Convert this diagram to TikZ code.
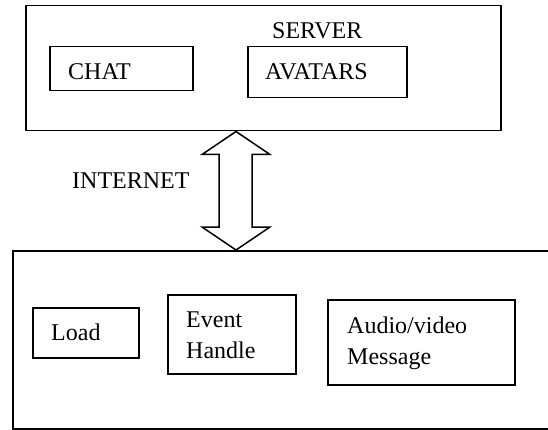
\documentclass[tikz,border=0pt]{standalone}
\usepackage{fontspec}
\setmainfont{Liberation Serif}
\usetikzlibrary{calc}
\begin{document}
\begin{tikzpicture}[x=1pt,y=1pt,
  frame/.style={draw=black, line width=1.5pt, rectangle, inner sep=0pt, anchor=north west},
  lbl/.style={inner sep=0pt, font=\fontsize{24}{31}\selectfont, align=left},
]
\clip (0,0) rectangle (548,-430);

% server side
\node[frame, minimum width=475, minimum height=125] (server) at (25,-5) {};
\node[lbl, anchor=base west] (servertxt) at (272,-39) {SERVER};
\node[frame, minimum width=143, minimum height=44] (chat) at (49,-46) {};
\node[lbl, anchor=base west] (chattxt) at (68,-80) {CHAT};
\node[frame, minimum width=159, minimum height=51] (avatars) at (247,-46) {};
\node[lbl, anchor=base west] (avatarstxt) at (265,-80) {AVATARS};

% client side (runs off the right edge)
\node[frame, minimum width=560, minimum height=178] (client) at (12,-250) {};
\node[frame, minimum width=106, minimum height=50] (load) at (32,-307) {};
\node[lbl, anchor=base west] (loadtxt) at (51,-340) {Load};
\node[frame, minimum width=128, minimum height=79] (event) at (167,-294) {};
\node[lbl, anchor=north west] (eventtxt) at (186,-311.5) {Event\\Handle};
\node[frame, minimum width=187, minimum height=85] (av) at (327,-299) {};
\node[lbl, anchor=north west] (avtxt) at (347,-316.5) {Audio/video\\Message};

% internet link
\coordinate (up) at (server.south west -| 236,0);
\coordinate (dn) at (client.north west -| 236,0);
\draw[line width=1.5pt, line join=miter]
  (up) -- ($(up)+(34,-23)$) -- ($(up)+(16,-23)$) -- ($(dn)+(16,23)$)
  -- ($(dn)+(34,23)$) -- (dn) -- ($(dn)+(-34,23)$) -- ($(dn)+(-17,23)$)
  -- ($(up)+(-17,-23)$) -- ($(up)+(-34,-23)$) -- cycle;
\node[lbl, anchor=base west] (nettxt) at (72,-189) {INTERNET};
\end{tikzpicture}
\end{document}
